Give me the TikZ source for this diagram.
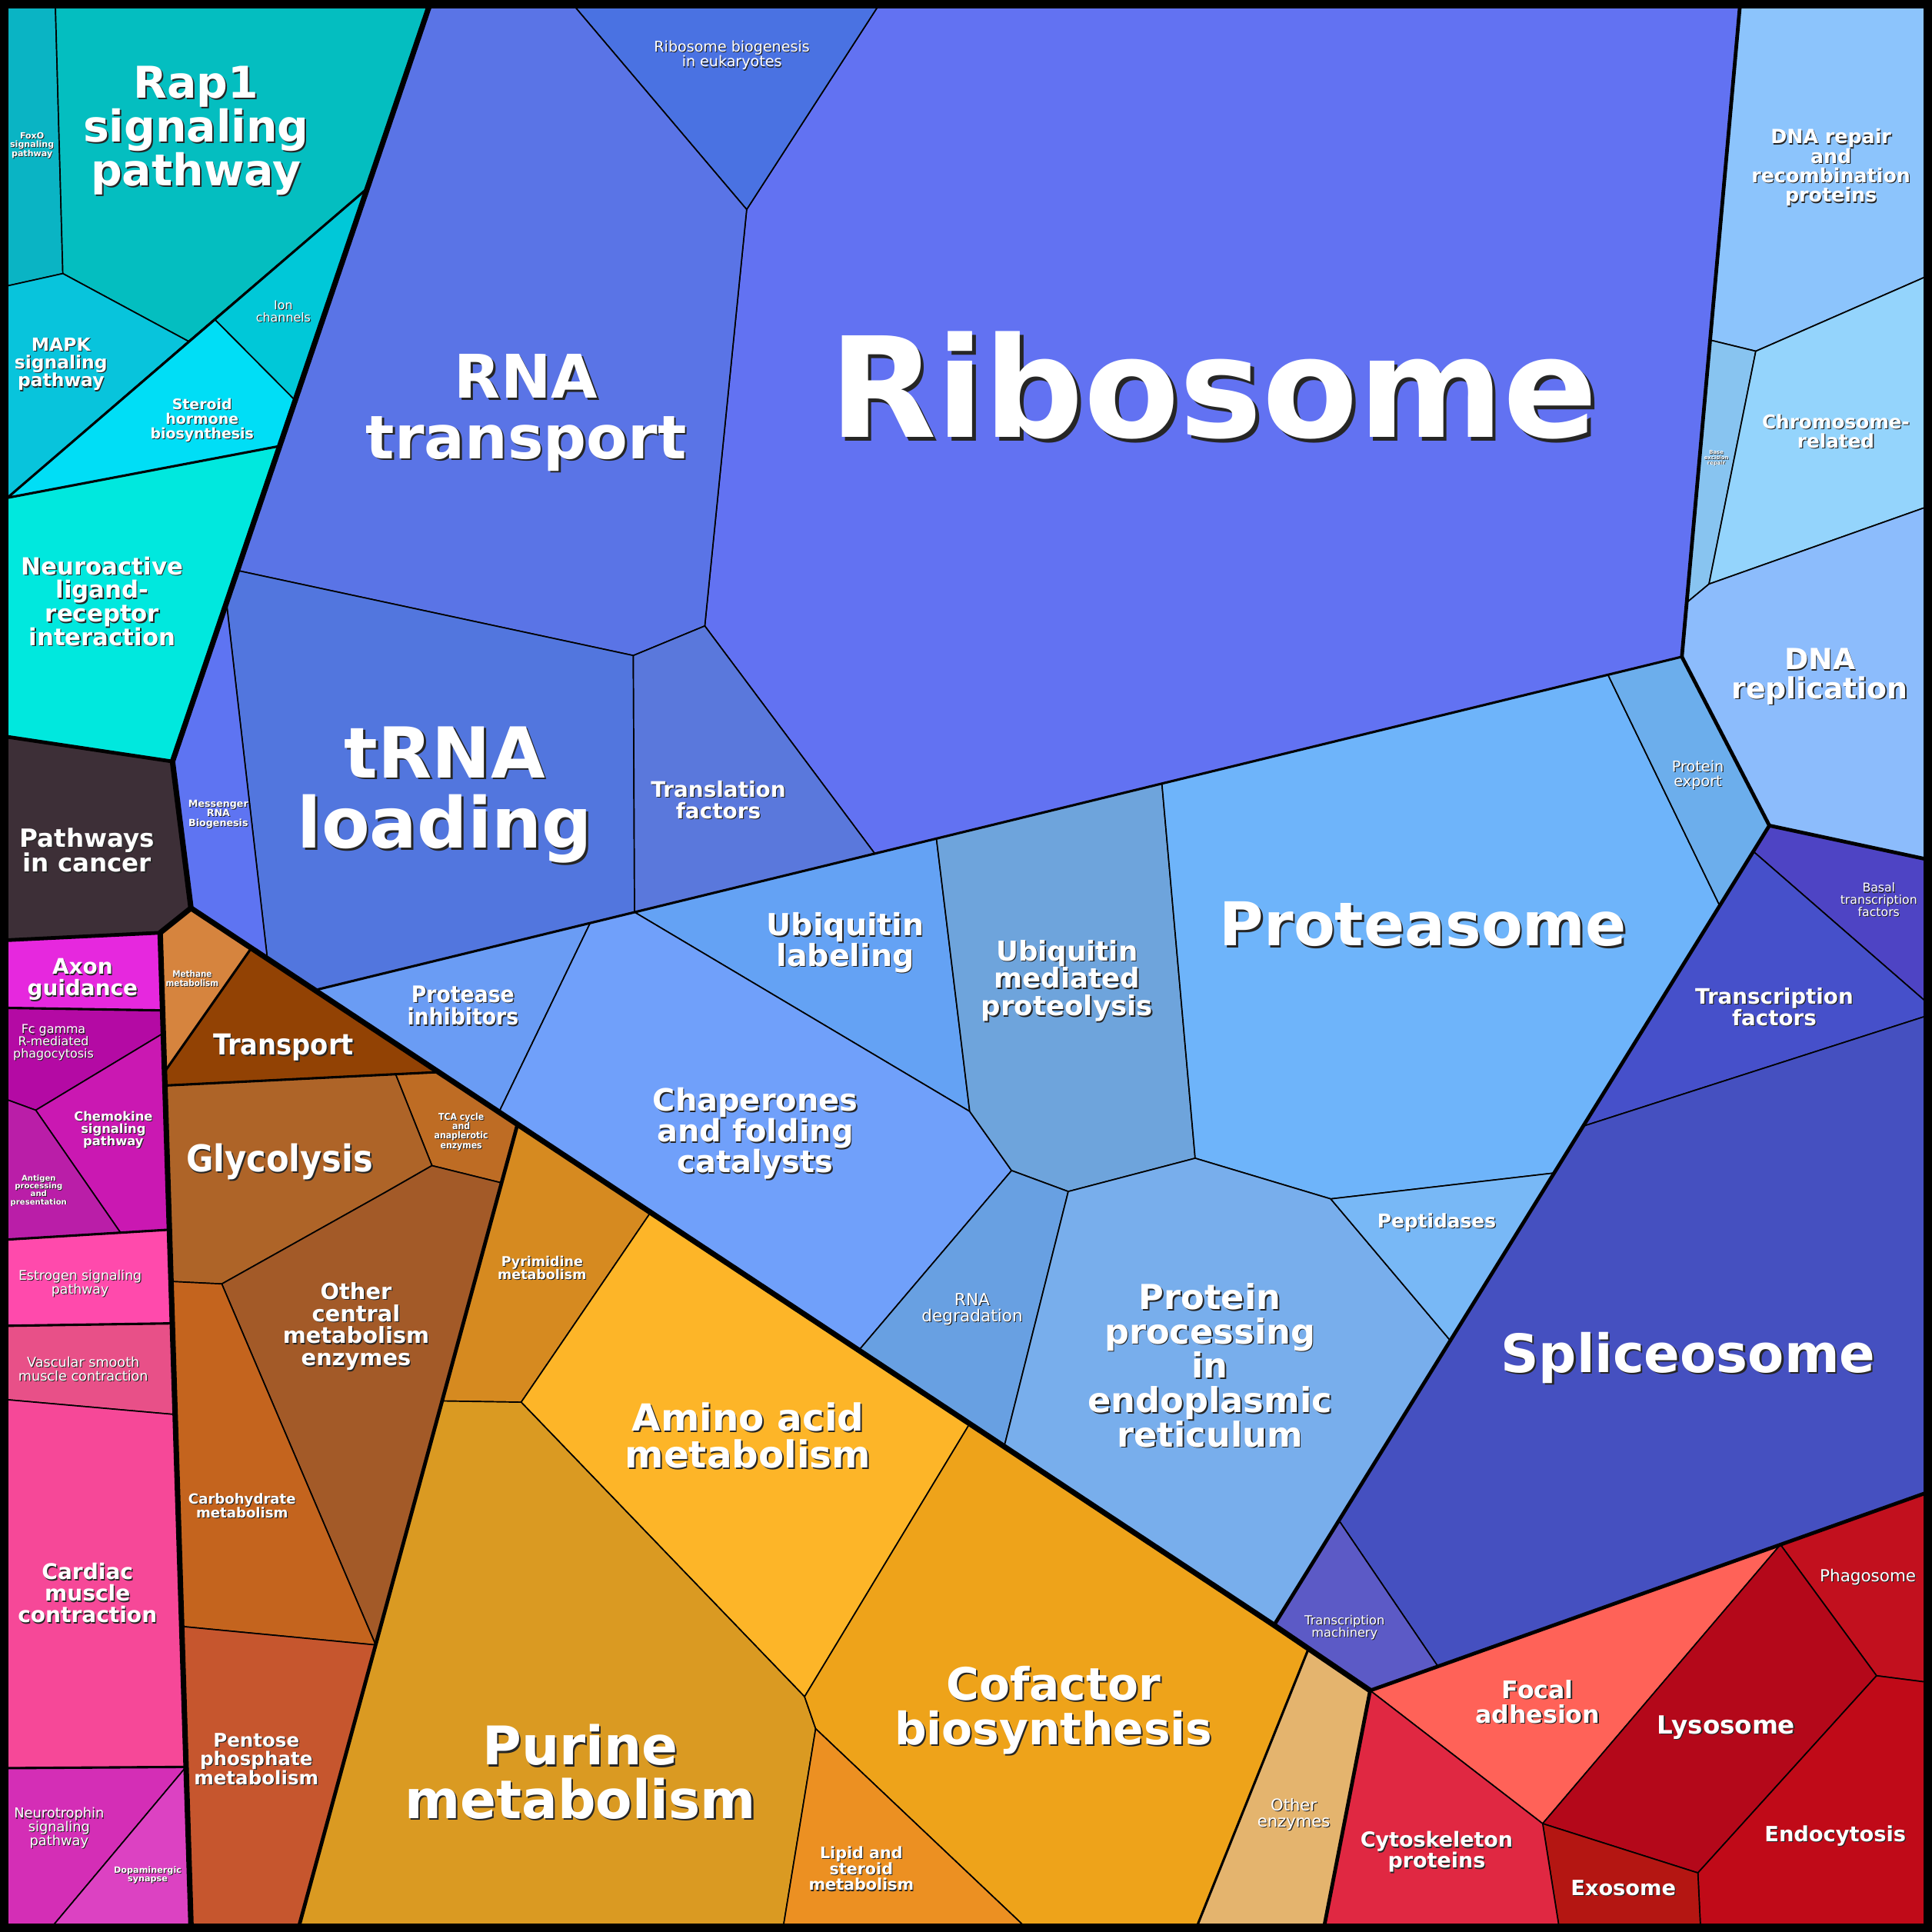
\documentclass[tikz,border=0pt]{standalone}
\usepackage{fontspec}
\setmainfont{DejaVu Sans}
\newfontfamily\condfam{DejaVu Sans Condensed}
\usetikzlibrary{calc}

\newdimen\pxu \pxu=0.28453pt
\newcommand{\fb}[1]{\fontsize{#1\pxu}{#1\pxu}\selectfont\bfseries}
\newcommand{\fr}[1]{\fontsize{#1\pxu}{#1\pxu}\selectfont}
\newcommand{\fc}[1]{\fontsize{#1\pxu}{#1\pxu}\selectfont\condfam\bfseries}

% label with a dark drop shadow
\newcommand{\celltext}[5]{%
  \node[lbl, text=black!85, font=#4{#3}, shift={({0.022*#3+0.45},{0.022*#3+0.45})}] at (#2) {#5};
  \node[lbl, font=#4{#3}] (#1) at (#2) {#5};
}

\definecolor{foxTeal}{HTML}{0AB4C4}
\definecolor{rapTeal}{HTML}{04BEC0}
\definecolor{mapkCyan}{HTML}{08C4DC}
\definecolor{ionCyan}{HTML}{00C8D8}
\definecolor{steroidCyan}{HTML}{00DEF6}
\definecolor{neuroCyan}{HTML}{00E8DE}
\definecolor{cancerGrey}{HTML}{3D2F37}
\definecolor{axonPink}{HTML}{E628DE}
\definecolor{fcPink}{HTML}{B40AA4}
\definecolor{chemoPink}{HTML}{CA18B2}
\definecolor{antigenPink}{HTML}{BA1EA8}
\definecolor{estrogenPink}{HTML}{FF4AAC}
\definecolor{vascularPink}{HTML}{E85088}
\definecolor{cardiacPink}{HTML}{F64898}
\definecolor{neurotrPink}{HTML}{D42EB6}
\definecolor{dopaPink}{HTML}{DC42C2}
\definecolor{methaneBrown}{HTML}{D6843E}
\definecolor{transportBrown}{HTML}{924204}
\definecolor{glycoBrown}{HTML}{AE6428}
\definecolor{tcaBrown}{HTML}{BE6C24}
\definecolor{centralBrown}{HTML}{A35A28}
\definecolor{carbBrown}{HTML}{C4641E}
\definecolor{pentoseBrown}{HTML}{C6562E}
\definecolor{pyrimOrange}{HTML}{D68A20}
\definecolor{aminoOrange}{HTML}{FDB528}
\definecolor{purineOrange}{HTML}{DA9A22}
\definecolor{cofactorOrange}{HTML}{EEA31A}
\definecolor{lipidOrange}{HTML}{EC9022}
\definecolor{otherOrange}{HTML}{E4B46E}
\definecolor{ribosomeBlue}{HTML}{6272F2}
\definecolor{rnaBlue}{HTML}{5A74E6}
\definecolor{biogenBlue}{HTML}{4A72E2}
\definecolor{trnaBlue}{HTML}{5276DE}
\definecolor{translBlue}{HTML}{5A78DC}
\definecolor{messengerBlue}{HTML}{5E74F2}
\definecolor{proteaseBlue}{HTML}{6A9CF4}
\definecolor{ubLabBlue}{HTML}{64A2F4}
\definecolor{chapBlue}{HTML}{70A0FA}
\definecolor{ubMedBlue}{HTML}{6EA4DC}
\definecolor{proteasomeBlue}{HTML}{6EB4FA}
\definecolor{exportBlue}{HTML}{6CAEEC}
\definecolor{rnaDegBlue}{HTML}{68A0E2}
\definecolor{processBlue}{HTML}{78AEEC}
\definecolor{peptidBlue}{HTML}{78B8F6}
\definecolor{repairSky}{HTML}{8CC4FC}
\definecolor{baseSky}{HTML}{88C4F0}
\definecolor{chromoSky}{HTML}{94D4FC}
\definecolor{replicSky}{HTML}{8CBCFC}
\definecolor{basalIndigo}{HTML}{4E44C4}
\definecolor{tfIndigo}{HTML}{4650CA}
\definecolor{spliceIndigo}{HTML}{4550C0}
\definecolor{machIndigo}{HTML}{5C5AC6}
\definecolor{focalRed}{HTML}{FF6258}
\definecolor{phagoRed}{HTML}{C2101E}
\definecolor{lysoRed}{HTML}{B4081A}
\definecolor{endoRed}{HTML}{C00A18}
\definecolor{exoRed}{HTML}{B41612}
\definecolor{cytoRed}{HTML}{E02842}

\tikzset{
  cell/.style={draw=black, line width=0.3pt, line join=round},
  wallA/.style={draw=black, line width=1.25pt, line join=round, line cap=round},
  wallB/.style={draw=black, line width=0.85pt, line join=round, line cap=round},
  wallC/.style={draw=black, line width=0.55pt, line cap=round},
  lbl/.style={inner sep=0pt, align=center, text=white}
}

\begin{document}
\begin{tikzpicture}[x=0.01cm, y=-0.01cm]
  \useasboundingbox (0,0) rectangle (1568,1568);

  % corners
  \coordinate (tl) at (6,6);
  \coordinate (tr) at (1562,6);
  \coordinate (bl) at (6,1562);
  \coordinate (br) at (1562,1562);

  % signaling (cyan)
  \coordinate (foxT) at (45,6);
  \coordinate (foxJ) at (51,222);
  \coordinate (foxL) at (6,232);
  \coordinate (cyT) at (348,6);
  \coordinate (cyA) at (298,153);
  \coordinate (mapJ) at (153,277);
  \coordinate (ionJ) at (174,259);
  \coordinate (ionB) at (239.6,325);
  \coordinate (strB) at (227,362);
  \coordinate (cyL) at (6,404);
  \coordinate (cyC) at (140,618);
  \coordinate (cyP) at (6,598);

  % cancer / magenta
  \coordinate (pa1) at (155,737);
  \coordinate (pa2) at (130,757);
  \coordinate (pa3) at (6,763);
  \coordinate (mgB) at (155,1562);
  \coordinate (axR) at (132,820);
  \coordinate (axL) at (6,818);
  \coordinate (fcR) at (132.6,838.5);
  \coordinate (fcJ) at (29,901);
  \coordinate (fcL) at (6,892.6);
  \coordinate (anB) at (97.8,1000.4);
  \coordinate (esL) at (6,1006);
  \coordinate (esR) at (137.5,998);
  \coordinate (vaL) at (6,1076);
  \coordinate (vaR) at (139.8,1074);
  \coordinate (caL) at (6,1136);
  \coordinate (caR) at (142.1,1148);
  \coordinate (neL) at (6,1435);
  \coordinate (neR) at (151,1434);
  \coordinate (doB) at (43.7,1562);

  % brown
  \coordinate (mtR) at (204,769.4);
  \coordinate (mtB) at (133.5,870);
  \coordinate (trB) at (356,870.1);
  \coordinate (trL) at (133.8,881);
  \coordinate (gyT) at (321,871.7);
  \coordinate (gyJ) at (350.6,946);
  \coordinate (tcR) at (407.1,960);
  \coordinate (orT) at (420,912.5);
  \coordinate (gyO) at (313,967.5);
  \coordinate (gyC) at (180,1042);
  \coordinate (gyL) at (138.8,1040);
  \coordinate (caJ) at (304.9,1335);
  \coordinate (pnL) at (147.5,1320);
  \coordinate (orB) at (243,1562);

  % orange
  \coordinate (pyT) at (528,984);
  \coordinate (pyJ) at (423,1138);
  \coordinate (pyL) at (358.8,1137);
  \coordinate (amT) at (787,1155.4);
  \coordinate (amJ) at (653,1377);
  \coordinate (puJ) at (662,1403);
  \coordinate (liL) at (636,1562);
  \coordinate (liR) at (830,1562);
  \coordinate (bx) at (1034,1319);
  \coordinate (oeT) at (1062,1338);
  \coordinate (oeB) at (972,1562);
  \coordinate (rJ) at (1112,1372);
  \coordinate (rB) at (1075,1562);

  % blue
  \coordinate (bgL) at (467,6);
  \coordinate (bgR) at (712,6);
  \coordinate (bgB) at (606,170);
  \coordinate (rtJ) at (572,508);
  \coordinate (rtT) at (514,532);
  \coordinate (b1) at (192.7,463);
  \coordinate (msT) at (183.8,489);
  \coordinate (msB) at (217,778.1);
  \coordinate (sbA) at (256,803.5);
  \coordinate (sbB) at (1365,533);
  \coordinate (prT) at (479,749.1);
  \coordinate (tlB) at (515,740.3);
  \coordinate (tfB) at (710,692.8);
  \coordinate (ulR) at (760,680.6);
  \coordinate (umR) at (943,635.9);
  \coordinate (pxL) at (1305,547.6);
  \coordinate (cpB) at (405,902.5);
  \coordinate (b19) at (787,902);
  \coordinate (b18) at (821,950);
  \coordinate (rdB) at (697,1095.9);
  \coordinate (b21) at (970,940);
  \coordinate (b20) at (867,967);
  \coordinate (b12) at (1395.7,735);
  \coordinate (b13) at (1261.3,952);
  \coordinate (b22) at (1080,973);
  \coordinate (b11) at (1436,670);
  \coordinate (b23) at (815,1174);
  \coordinate (b14) at (1177.1,1088);

  % light blue
  \coordinate (lb1) at (1412,6);
  \coordinate (lbA) at (1388,276);
  \coordinate (lbB) at (1425,285);
  \coordinate (lbC) at (1562,225);
  \coordinate (lbD) at (1387,474);
  \coordinate (lbE) at (1369,489);
  \coordinate (lbF) at (1562,412);
  \coordinate (lbG) at (1562,697);

  % indigo
  \coordinate (i1) at (1284.9,914);
  \coordinate (i2) at (1423,691);
  \coordinate (i3) at (1562,812);
  \coordinate (i4) at (1562,825);
  \coordinate (i5) at (1562,1212);
  \coordinate (i6) at (1167,1352.4);
  \coordinate (tmT) at (1086.7,1234);

  % red
  \coordinate (r2) at (1445,1253.6);
  \coordinate (r3) at (1523,1360);
  \coordinate (r4) at (1562,1365);
  \coordinate (r5) at (1252,1480);
  \coordinate (r6) at (1378,1520);
  \coordinate (r7) at (1380,1562);
  \coordinate (r8) at (1265,1562);

  % cells
  \filldraw[cell, fill=foxTeal] (tl) -- (foxT) -- (foxJ) -- (foxL) -- cycle;
  \filldraw[cell, fill=rapTeal] (foxT) -- (cyT) -- (cyA) -- (mapJ) -- (foxJ) -- cycle;
  \filldraw[cell, fill=mapkCyan] (foxL) -- (foxJ) -- (mapJ) -- (cyL) -- cycle;
  \filldraw[cell, fill=ionCyan] (cyA) -- (ionB) -- (ionJ) -- cycle;
  \filldraw[cell, fill=steroidCyan] (ionJ) -- (ionB) -- (strB) -- (cyL) -- cycle;
  \filldraw[cell, fill=neuroCyan] (cyL) -- (strB) -- (cyC) -- (cyP) -- cycle;
  \filldraw[cell, fill=cancerGrey] (cyP) -- (cyC) -- (pa1) -- (pa2) -- (pa3) -- cycle;

  \filldraw[cell, fill=axonPink] (pa3) -- (pa2) -- (axR) -- (axL) -- cycle;
  \filldraw[cell, fill=fcPink] (axL) -- (axR) -- (fcR) -- (fcJ) -- (fcL) -- cycle;
  \filldraw[cell, fill=chemoPink] (fcR) -- (esR) -- (anB) -- (fcJ) -- cycle;
  \filldraw[cell, fill=antigenPink] (fcL) -- (fcJ) -- (anB) -- (esL) -- cycle;
  \filldraw[cell, fill=estrogenPink] (esL) -- (esR) -- (vaR) -- (vaL) -- cycle;
  \filldraw[cell, fill=vascularPink] (vaL) -- (vaR) -- (caR) -- (caL) -- cycle;
  \filldraw[cell, fill=cardiacPink] (caL) -- (caR) -- (neR) -- (neL) -- cycle;
  \filldraw[cell, fill=neurotrPink] (neL) -- (neR) -- (doB) -- (bl) -- cycle;
  \filldraw[cell, fill=dopaPink] (neR) -- (mgB) -- (doB) -- cycle;

  \filldraw[cell, fill=methaneBrown] (pa1) -- (mtR) -- (mtB) -- (pa2) -- cycle;
  \filldraw[cell, fill=transportBrown] (mtR) -- (trB) -- (trL) -- (mtB) -- cycle;
  \filldraw[cell, fill=tcaBrown] (gyT) -- (trB) -- (orT) -- (tcR) -- (gyJ) -- cycle;
  \filldraw[cell, fill=glycoBrown] (trL) -- (gyT) -- (gyJ) -- (gyO) -- (gyC) -- (gyL) -- cycle;
  \filldraw[cell, fill=centralBrown] (gyJ) -- (tcR) -- (caJ) -- (gyC) -- (gyO) -- cycle;
  \filldraw[cell, fill=carbBrown] (gyL) -- (gyC) -- (caJ) -- (pnL) -- cycle;
  \filldraw[cell, fill=pentoseBrown] (pnL) -- (caJ) -- (orB) -- (mgB) -- cycle;

  \filldraw[cell, fill=pyrimOrange] (orT) -- (pyT) -- (pyJ) -- (pyL) -- cycle;
  \filldraw[cell, fill=aminoOrange] (pyT) -- (amT) -- (amJ) -- (pyJ) -- cycle;
  \filldraw[cell, fill=purineOrange] (pyL) -- (pyJ) -- (amJ) -- (puJ) -- (liL) -- (orB) -- cycle;
  \filldraw[cell, fill=cofactorOrange] (amT) -- (bx) -- (oeT) -- (oeB) -- (liR) -- (puJ) -- (amJ) -- cycle;
  \filldraw[cell, fill=lipidOrange] (puJ) -- (liR) -- (liL) -- cycle;
  \filldraw[cell, fill=otherOrange] (oeT) -- (rJ) -- (rB) -- (oeB) -- cycle;

  \filldraw[cell, fill=ribosomeBlue] (bgR) -- (lb1) -- (sbB) -- (tfB) -- (rtJ) -- (bgB) -- cycle;
  \filldraw[cell, fill=biogenBlue] (bgL) -- (bgR) -- (bgB) -- cycle;
  \filldraw[cell, fill=rnaBlue] (cyT) -- (bgL) -- (bgB) -- (rtJ) -- (rtT) -- (b1) -- cycle;
  \filldraw[cell, fill=trnaBlue] (b1) -- (rtT) -- (tlB) -- (sbA) -- (msB) -- (msT) -- cycle;
  \filldraw[cell, fill=translBlue] (rtT) -- (rtJ) -- (tfB) -- (tlB) -- cycle;
  \filldraw[cell, fill=messengerBlue] (msT) -- (msB) -- (pa1) -- (cyC) -- cycle;

  \filldraw[cell, fill=proteaseBlue] (sbA) -- (prT) -- (cpB) -- cycle;
  \filldraw[cell, fill=ubLabBlue] (tlB) -- (ulR) -- (b19) -- cycle;
  \filldraw[cell, fill=chapBlue] (cpB) -- (prT) -- (tlB) -- (b19) -- (b18) -- (rdB) -- cycle;
  \filldraw[cell, fill=ubMedBlue] (ulR) -- (umR) -- (b21) -- (b20) -- (b18) -- (b19) -- cycle;
  \filldraw[cell, fill=proteasomeBlue] (umR) -- (pxL) -- (b12) -- (b13) -- (b22) -- (b21) -- cycle;
  \filldraw[cell, fill=exportBlue] (pxL) -- (sbB) -- (b11) -- (b12) -- cycle;
  \filldraw[cell, fill=rnaDegBlue] (rdB) -- (b18) -- (b20) -- (b23) -- cycle;
  \filldraw[cell, fill=processBlue] (b20) -- (b21) -- (b22) -- (b14) -- (bx) -- (b23) -- cycle;
  \filldraw[cell, fill=peptidBlue] (b22) -- (b13) -- (b14) -- cycle;

  \filldraw[cell, fill=repairSky] (lb1) -- (tr) -- (lbC) -- (lbB) -- (lbA) -- cycle;
  \filldraw[cell, fill=baseSky] (lbA) -- (lbB) -- (lbD) -- (lbE) -- cycle;
  \filldraw[cell, fill=chromoSky] (lbB) -- (lbC) -- (lbF) -- (lbD) -- cycle;
  \filldraw[cell, fill=replicSky] (lbE) -- (lbD) -- (lbF) -- (lbG) -- (b11) -- (sbB) -- cycle;

  \filldraw[cell, fill=basalIndigo] (b11) -- (lbG) -- (i3) -- (i2) -- cycle;
  \filldraw[cell, fill=tfIndigo] (i2) -- (i3) -- (i4) -- (i1) -- cycle;
  \filldraw[cell, fill=spliceIndigo] (i1) -- (i4) -- (i5) -- (i6) -- (tmT) -- cycle;
  \filldraw[cell, fill=machIndigo] (tmT) -- (i6) -- (rJ) -- (oeT) -- (bx) -- cycle;

  \filldraw[cell, fill=focalRed] (rJ) -- (r2) -- (r5) -- cycle;
  \filldraw[cell, fill=phagoRed] (r2) -- (i5) -- (r4) -- (r3) -- cycle;
  \filldraw[cell, fill=lysoRed] (r2) -- (r3) -- (r6) -- (r5) -- cycle;
  \filldraw[cell, fill=endoRed] (r3) -- (r4) -- (br) -- (r7) -- (r6) -- cycle;
  \filldraw[cell, fill=exoRed] (r5) -- (r6) -- (r7) -- (r8) -- cycle;
  \filldraw[cell, fill=cytoRed] (rJ) -- (r5) -- (r8) -- (rB) -- cycle;

  % inner walls of sub-groups
  \draw[wallC] (cyA) -- (cyL) -- (strB);
  \draw[wallC] (axL) -- (axR);
  \draw[wallC] (esL) -- (esR);
  \draw[wallC] (vaL) -- (vaR);
  \draw[wallC] (neL) -- (neR);
  \draw[wallC] (mtR) -- (mtB);
  \draw[wallC] (trL) -- (trB);
  \draw[wallC] (oeT) -- (oeB);
  \draw[wallC] (sbA) -- (sbB);

  % walls between groups
  \draw[wallB] (cyP) -- (cyC);
  \draw[wallB] (pa2) -- (pa3);
  \draw[wallB] (orT) -- (orB);
  \draw[wallB] (rB) -- (rJ) -- (i5);
  \draw[wallB] (bx) -- (b11);
  \draw[wallB] (lb1) -- (sbB) -- (b11) -- (lbG);
  \draw[wallA] (cyT) -- (cyC) -- (pa1) -- (bx) -- (rJ);
  \draw[wallA] (pa1) -- (pa2) -- (mgB);

  % frame
  \draw[line width=2pt] (3.5,3.5) rectangle (1564.5,1564.5);

  % labels
  \celltext{lFoxo}{26,118}{6.9}{\fb}{FoxO\\signaling\\pathway}
  \celltext{lRap}{159,106}{35.5}{\fb}{Rap1\\signaling\\pathway}
  \celltext{lMapk}{49.5,295.5}{14.6}{\fb}{MAPK\\signaling\\pathway}
  \celltext{lIon}{230,252.5}{9.9}{\fr}{Ion\\channels}
  \celltext{lSteroid}{164,341}{11.8}{\fb}{Steroid\\hormone\\biosynthesis}
  \celltext{lNeuro}{83,488}{19.2}{\fb}{Neuroactive\\ligand-\\receptor\\interaction}
  \celltext{lCancer}{70.7,690}{20.3}{\fb}{Pathways\\in cancer}
  \celltext{lAxon}{67,795}{17.4}{\fb}{Axon\\guidance}
  \celltext{lFc}{43.4,846.2}{9.9}{\fr}{Fc gamma\\R-mediated\\phagocytosis}
  \celltext{lChemo}{92,917}{10.2}{\fb}{Chemokine\\signaling\\pathway}
  \celltext{lAntigen}{31.4,966.3}{6.3}{\fb}{Antigen\\processing\\and\\presentation}
  \celltext{lEstrogen}{65,1041.6}{10.8}{\fr}{Estrogen signaling\\pathway}
  \celltext{lVascular}{67.6,1111}{11}{\fr}{Vascular smooth\\muscle contraction}
  \celltext{lCardiac}{71,1293}{17.5}{\fb}{Cardiac\\muscle\\contraction}
  \celltext{lNeurotr}{48,1483.6}{11.1}{\fr}{Neurotrophin\\signaling\\pathway}
  \celltext{lDopa}{119.9,1521.7}{7}{\fb}{Dopaminergic\\synapse}
  \celltext{lMethane}{156,794}{7.2}{\fc}{Methane\\metabolism}
  \celltext{lTransport}{230,850}{23.4}{\fc}{Transport}
  \celltext{lGlyco}{227,943}{30}{\fc}{Glycolysis}
  \celltext{lTca}{374.3,918.5}{7.6}{\fc}{TCA cycle\\and\\anaplerotic\\enzymes}
  \celltext{lCentral}{289,1076.5}{18}{\fb}{Other\\central\\metabolism\\enzymes}
  \celltext{lCarb}{196.5,1222}{11.3}{\fb}{Carbohydrate\\metabolism}
  \celltext{lPentose}{208,1427.5}{15.3}{\fb}{Pentose\\phosphate\\metabolism}
  \celltext{lPyrim}{440,1029}{10.9}{\fb}{Pyrimidine\\metabolism}
  \celltext{lAmino}{607,1165}{30.2}{\fb}{Amino acid\\metabolism}
  \celltext{lPurine}{471,1438}{43.2}{\fb}{Purine\\metabolism}
  \celltext{lCofactor}{855,1388}{36.3}{\fb}{Cofactor\\biosynthesis}
  \celltext{lLipid}{699,1516.5}{12.9}{\fb}{Lipid and\\steroid\\metabolism}
  \celltext{lOtherEnz}{1050,1472.5}{13.2}{\fr}{Other\\enzymes}
  \celltext{lRibosome}{985,313}{113}{\fb}{Ribosome}
  \celltext{lBiogen}{594,45}{11.9}{\fr}{Ribosome biogenesis\\in eukaryotes}
  \celltext{lRnaTr}{427,335}{48.8}{\fb}{RNA\\transport}
  \celltext{lTrna}{361,645}{57}{\fb}{tRNA\\loading}
  \celltext{lTransl}{583,649}{17.4}{\fb}{Translation\\factors}
  \celltext{lMessenger}{177.2,660.7}{7.9}{\fb}{Messenger\\RNA\\Biogenesis}
  \celltext{lProtease}{375.7,816}{18.5}{\fc}{Protease\\inhibitors}
  \celltext{lUbLab}{686,765}{24.7}{\fb}{Ubiquitin\\labeling}
  \celltext{lChap}{613,920}{24.9}{\fb}{Chaperones\\and folding\\catalysts}
  \celltext{lUbMed}{866,796}{22.2}{\fb}{Ubiquitin\\mediated\\proteolysis}
  \celltext{lProteasome}{1155,750}{48.9}{\fb}{Proteasome}
  \celltext{lExport}{1378,629}{12}{\fr}{Protein\\export}
  \celltext{lRnaDeg}{789,1062.5}{13.5}{\fr}{RNA\\degradation}
  \celltext{lProcessing}{982,1108}{27.9}{\fb}{Protein\\processing\\in\\endoplasmic\\reticulum}
  \celltext{lPeptid}{1166,992}{15.5}{\fb}{Peptidases}
  \celltext{lRepair}{1486,136}{15.8}{\fb}{DNA repair\\and\\recombination\\proteins}
  \celltext{lBase}{1393,371.6}{4.3}{\fb}{Base\\excision\\repair}
  \celltext{lChromo}{1490,350}{15.4}{\fb}{Chromosome-\\related}
  \celltext{lReplic}{1477,549}{23.6}{\fb}{DNA\\replication}
  \celltext{lBasal}{1524.8,730.2}{9.8}{\fr}{Basal\\transcription\\factors}
  \celltext{lTf}{1440,817}{17.3}{\fb}{Transcription\\factors}
  \celltext{lSplice}{1370,1102}{42.9}{\fb}{Spliceosome}
  \celltext{lMachinery}{1091.3,1320.8}{10.1}{\fr}{Transcription\\machinery}
  \celltext{lFocal}{1248,1381}{19.7}{\fb}{Focal\\adhesion}
  \celltext{lPhago}{1516,1280}{13.4}{\fr}{Phagosome}
  \celltext{lLyso}{1401,1402}{20.3}{\fb}{Lysosome}
  \celltext{lEndo}{1489.5,1490}{17}{\fb}{Endocytosis}
  \celltext{lExo}{1317.5,1532}{17}{\fb}{Exosome}
  \celltext{lCyto}{1166,1503}{16.8}{\fb}{Cytoskeleton\\proteins}
\end{tikzpicture}
\end{document}
